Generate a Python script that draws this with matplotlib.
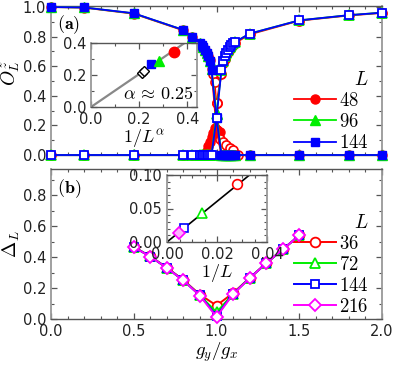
import matplotlib
matplotlib.use('Agg')
import matplotlib.pyplot as plt
from matplotlib.ticker import MultipleLocator, FormatStrFormatter

plt.rcParams['mathtext.fontset'] = 'cm'
plt.rcParams['font.family'] = ['DejaVu Sans']

# ---------------- data: panel (a) ----------------
g_grid = [0.0, 0.2, 0.5, 0.8, 0.85, 0.9, 0.91, 0.92, 0.93, 0.94, 0.95, 0.96, 0.97,
          1.0, 1.03, 1.04, 1.05, 1.06, 1.07, 1.08, 1.09, 1.1, 1.11, 1.2, 1.5, 1.8, 2.0]
# filled markers (high for g<1)
oz_fill_48 = [1.0, 0.996, 0.955, 0.842, 0.798, 0.752, 0.742, 0.728, 0.71, 0.69, 0.668, 0.64, 0.58,
              0.17, 0.0, 0.0, 0.0, 0.0, 0.0, 0.0, 0.0, 0.0, 0.0, 0.0, 0.0, 0.0, 0.0]
oz_fill_96 = [1.0, 0.997, 0.957, 0.845, 0.80, 0.756, 0.745, 0.73, 0.712, 0.692, 0.668, 0.638, 0.578,
              0.28, 0.0, 0.0, 0.0, 0.0, 0.0, 0.0, 0.0, 0.0, 0.0, 0.0, 0.0, 0.0, 0.0]
oz_fill_144 = [1.0, 0.997, 0.958, 0.845, 0.80, 0.757, 0.745, 0.73, 0.712, 0.692, 0.668, 0.636, 0.575,
               0.25, 0.0, 0.0, 0.0, 0.0, 0.0, 0.0, 0.0, 0.0, 0.0, 0.0, 0.0, 0.0, 0.0]
# open markers (high for g>1)
oz_open_48 = [0.0, 0.0, 0.0, 0.0, 0.0, 0.0, 0.0, 0.0, 0.0, 0.0, 0.0, 0.0, 0.0,
              0.35, 0.55, 0.62, 0.65, 0.675, 0.695, 0.715, 0.73, 0.742, 0.755, 0.815, 0.908, 0.943, 0.96]
oz_open_96 = [0.0, 0.0, 0.0, 0.0, 0.0, 0.0, 0.0, 0.0, 0.0, 0.0, 0.0, 0.0, 0.0,
              0.28, 0.575, 0.636, 0.668, 0.692, 0.712, 0.73, 0.745, 0.757, 0.762, 0.82, 0.91, 0.945, 0.962]
oz_open_144 = [0.0, 0.0, 0.0, 0.0, 0.0, 0.0, 0.0, 0.0, 0.0, 0.0, 0.0, 0.0, 0.0,
               0.25, 0.575, 0.636, 0.668, 0.692, 0.712, 0.73, 0.745, 0.757, 0.762, 0.82, 0.91, 0.945, 0.962]
# extra finite-size tails of L=48 near the transition
tail48_fill_g = [0.92, 0.94, 0.95, 0.96, 0.97, 0.98, 0.99, 1.0, 1.02]
tail48_fill_v = [0.0, 0.03, 0.06, 0.09, 0.12, 0.15, 0.18, 0.17, 0.155]
tail48_open_g = [0.98, 0.99, 1.0, 1.02, 1.04, 1.06, 1.08, 1.1, 1.13]
tail48_open_v = [0.55, 0.49, 0.35, 0.11, 0.09, 0.07, 0.05, 0.035, 0.0]

# inset (a)
inv_La_x = [0.343, 0.283, 0.25]
inv_La_y = [0.346, 0.289, 0.267]
extra_x = [0.211, 0.222]
extra_y = [0.214, 0.228]
fitA_x = [0.0, 0.44]
fitA_y = [0.0, 0.453]

# ---------------- data: panel (b) ----------------
g_b = [0.5, 0.6, 0.7, 0.8, 0.9, 1.0, 1.1, 1.2, 1.3, 1.4, 1.5]
gap_36 = [0.466, 0.405, 0.332, 0.252, 0.158, 0.087, 0.168, 0.265, 0.36, 0.45, 0.54]
gap_72 = [0.466, 0.405, 0.331, 0.250, 0.153, 0.043, 0.163, 0.264, 0.36, 0.45, 0.54]
gap_144 = [0.465, 0.404, 0.330, 0.249, 0.152, 0.021, 0.162, 0.264, 0.36, 0.45, 0.54]
gap_216 = [0.465, 0.404, 0.330, 0.249, 0.151, 0.013, 0.161, 0.263, 0.36, 0.45, 0.54]
inv_L = [0.0278, 0.0139, 0.00694, 0.00463]
gap_at1 = [0.087, 0.043, 0.021, 0.013]
fitB_x = [0.0, 0.033]
fitB_y = [0.0, 0.1]

RED, GREEN, BLUE, MAG = '#ff0000', '#00ee00', '#0000ff', '#ff00ff'

W, H = 394, 371
fig = plt.figure(figsize=(W / 100, H / 100), dpi=100)


def rect(l, t, r, b):
    return [l / W, 1 - b / H, (r - l) / W, (b - t) / H]


def style(ax, xmaj, xmin, ymaj, ymin, ls=10.5):
    ax.xaxis.set_major_locator(MultipleLocator(xmaj))
    ax.xaxis.set_minor_locator(MultipleLocator(xmin))
    ax.yaxis.set_major_locator(MultipleLocator(ymaj))
    ax.yaxis.set_minor_locator(MultipleLocator(ymin))
    ax.tick_params(which='both', direction='in', top=True, right=True,
                   labelsize=ls, labelcolor='#222222', color='#555555')
    ax.tick_params(which='major', length=4, width=0.9)
    ax.tick_params(which='minor', length=2.5, width=0.8)
    for s in ['top', 'bottom']:
        ax.spines[s].set_color('#555555')
        ax.spines[s].set_linewidth(1.0)
    for s in ['left', 'right']:
        ax.spines[s].set_color('#999999')
        ax.spines[s].set_linewidth(1.3)


# ---------------- panel (a) ----------------
ax1 = fig.add_axes(rect(51, 6, 382, 155))
specs_a = [(oz_fill_48, oz_open_48, RED, 'o', 6.5, '$48$'),
           (oz_fill_96, oz_open_96, GREEN, '^', 6.5, '$96$'),
           (oz_fill_144, oz_open_144, BLUE, 's', 5.5, '$144$')]
for i, (f, o, c, m, ms, lab) in enumerate(specs_a):
    ax1.plot(g_grid, f, color=c, marker=m, ms=ms, lw=1.3, mfc=c, mec=c,
             clip_on=False, zorder=3 + i, label=lab)
    ax1.plot(g_grid, o, color=c, marker=m, ms=ms, lw=1.3, mfc='white', mec=c, mew=1.3,
             clip_on=False, zorder=3 + i)
    if i == 0:
        ax1.plot(tail48_fill_g, tail48_fill_v, color=c, marker=m, ms=ms, lw=1.0,
                 mfc=c, mec=c, clip_on=False, zorder=2)
        ax1.plot(tail48_open_g, tail48_open_v, color=c, marker=m, ms=ms, lw=1.0,
                 mfc='white', mec=c, mew=1.2, clip_on=False, zorder=2)
ax1.set_xlim(0, 2.0)
ax1.set_ylim(0, 1.007)
style(ax1, 0.5, 0.1, 0.2, 0.1)
ax1.tick_params(labelbottom=False)
ax1.set_ylabel('$O_L^z$', fontsize=14)
ax1.yaxis.set_label_coords(-0.088, 0.55)
ax1.text(0.018, 0.875, r'$\mathbf{(a)}$', transform=ax1.transAxes, fontsize=13,
         va='center', ha='left')
leg1 = ax1.legend(loc='lower right', bbox_to_anchor=(1.0, -0.07), frameon=False,
                  fontsize=13.5, title='$L$', title_fontsize=14, handlelength=2.2,
                  handletextpad=0.2, labelspacing=0.12, borderpad=0.2)
leg1._legend_box.align = 'right'

# inset (a)
ia = fig.add_axes(rect(91, 43, 197, 107))
ia.plot(fitA_x, fitA_y, color='#888888', lw=1.6, zorder=1)
ia.plot(extra_x, extra_y, ls='none', marker='D', ms=5, mfc='white', mec='black',
        mew=1.0, zorder=3)
ia.plot(inv_La_x[2], inv_La_y[2], ls='none', marker='s', ms=6, color=BLUE, zorder=3)
ia.plot(inv_La_x[1], inv_La_y[1], ls='none', marker='^', ms=7.5, color=GREEN, zorder=3)
ia.plot(inv_La_x[0], inv_La_y[0], ls='none', marker='o', ms=7.5, color=RED, zorder=3)
ia.set_xlim(0, 0.44)
ia.set_ylim(0, 0.4)
style(ia, 0.2, 0.1, 0.2, 0.1)
ia.set_xlabel(r'$1/L^{\alpha}$', fontsize=13, labelpad=0)
ia.text(0.97, 0.06, r'$\alpha\,\approx\,0.25$', transform=ia.transAxes, fontsize=13,
        ha='right', va='bottom')

# ---------------- panel (b) ----------------
ax2 = fig.add_axes(rect(51, 169, 382, 319))
specs_b = [(gap_36, RED, 'o', 7, '$36$'),
           (gap_72, GREEN, '^', 7, '$72$'),
           (gap_144, BLUE, 's', 6, '$144$'),
           (gap_216, MAG, 'D', 6, '$216$')]
for i, (d, c, m, ms, lab) in enumerate(specs_b):
    ax2.plot(g_b, d, color=c, marker=m, ms=ms, lw=1.4, mfc='white', mec=c, mew=1.3,
             clip_on=False, zorder=3 + i, label=lab)
ax2.set_xlim(0, 2.0)
ax2.set_ylim(0, 0.97)
style(ax2, 0.5, 0.1, 0.2, 0.1)
ax2.set_xlabel('$g_y/g_x$', fontsize=13.5, labelpad=1)
ax2.set_ylabel(r'$\Delta_L$', fontsize=14)
ax2.yaxis.set_label_coords(-0.088, 0.5)
ax2.text(0.018, 0.867, r'$\mathbf{(b)}$', transform=ax2.transAxes, fontsize=13,
         va='center', ha='left')
leg2 = ax2.legend(loc='lower right', bbox_to_anchor=(1.0, -0.065), frameon=False,
                  fontsize=13.5, title='$L$', title_fontsize=14, handlelength=2.2,
                  handletextpad=0.2, labelspacing=0.1, borderpad=0.2)
leg2._legend_box.align = 'right'

# inset (b)
ib = fig.add_axes(rect(167, 175, 267, 242))
ib.plot(fitB_x, fitB_y, color='black', lw=1.2, zorder=1)
for (x, y, c, m, ms, fc) in [(inv_L[0], gap_at1[0], RED, 'o', 7, 'white'),
                             (inv_L[1], gap_at1[1], GREEN, '^', 7, 'white'),
                             (inv_L[2], gap_at1[2], BLUE, 's', 6, 'white'),
                             (inv_L[3], gap_at1[3], MAG, 'D', 6, '#ffb0ff')]:
    ib.plot(x, y, ls='none', marker=m, ms=ms, mfc=fc, mec=c, mew=1.2, zorder=3)
ib.set_xlim(0, 0.04)
ib.set_ylim(0, 0.1)
style(ib, 0.02, 0.005, 0.05, 0.01)
ib.xaxis.set_major_formatter(FormatStrFormatter('%.2f'))
ib.yaxis.set_major_formatter(FormatStrFormatter('%.2f'))
ib.set_xlabel('$1/L$', fontsize=13, labelpad=0)

fig.savefig('out.png', dpi=100)
